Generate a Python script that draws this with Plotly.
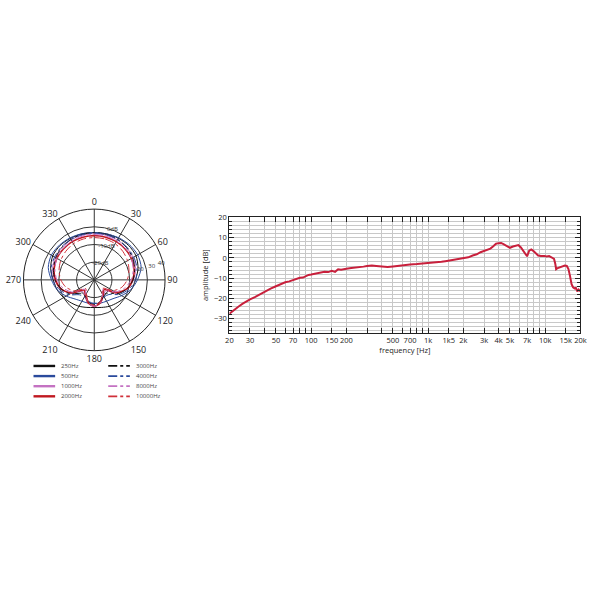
import plotly.graph_objects as go

# polar pattern: angles (deg) and level (dB) per frequency
angles = [0, 15, 30, 45, 60, 75, 90, 105, 120, 135, 150, 165, 180,
          195, 210, 225, 240, 255, 270, 285, 300, 315, 330, 345, 360]

pattern = {
    '250Hz':   [-3.3, -3.1, -2.8, -2.5, -2.8, -4.4, -6.7, -8.3, -10.0, -11.7, -12.8, -13.9, -14.4,
                -13.9, -12.8, -11.6, -10.0, -8.3, -6.8, -4.5, -2.9, -2.6, -2.9, -3.1, -3.3],
    '500Hz':   [-3.3, -3.1, -2.5, -1.9, -1.7, -2.6, -5.6, -8.6, -12.2, -15.0, -16.1, -16.4, -16.7,
                -16.4, -16.1, -14.7, -11.7, -8.3, -5.8, -3.1, -2.0, -2.2, -2.6, -3.0, -3.3],
    '1000Hz':  [-3.9, -3.9, -3.9, -4.2, -4.7, -5.8, -7.8, -10.6, -15.0, -21.1, -19.4, -16.4, -15.3,
                -16.4, -19.4, -20.8, -14.7, -10.3, -7.5, -5.6, -4.6, -4.2, -3.9, -3.9, -3.9],
    '2000Hz':  [-5.0, -5.0, -5.0, -5.3, -5.8, -6.7, -8.3, -10.8, -15.6, -22.2, -20.0, -16.7, -15.0,
                -16.7, -20.0, -21.9, -15.3, -10.6, -8.1, -6.5, -5.6, -5.3, -5.0, -5.0, -5.0],
    '3000Hz':  [-3.3, -3.4, -3.6, -4.2, -5.0, -6.4, -8.1, -10.8, -14.4, -19.4, -19.4, -17.2, -16.1,
                -17.2, -19.4, -19.2, -14.2, -10.6, -7.8, -6.1, -4.9, -4.1, -3.6, -3.4, -3.3],
    '4000Hz':  [-3.6, -3.6, -3.6, -3.9, -4.2, -5.0, -6.7, -9.7, -13.6, -18.3, -18.9, -17.5, -16.7,
                -17.5, -18.9, -18.1, -13.3, -9.4, -6.5, -4.7, -4.1, -3.7, -3.6, -3.6, -3.6],
    '8000Hz':  [-4.4, -4.4, -4.7, -5.0, -5.8, -7.2, -9.2, -12.2, -16.4, -22.8, -20.6, -16.7, -15.0,
                -16.7, -20.6, -22.5, -16.1, -11.9, -8.9, -7.0, -5.6, -5.0, -4.7, -4.4, -4.4],
    '10000Hz': [-6.1, -6.1, -6.4, -7.2, -8.3, -9.7, -11.4, -13.9, -17.8, -23.3, -21.1, -17.2, -15.8,
                -17.2, -21.1, -23.1, -17.5, -13.6, -11.1, -9.4, -8.1, -7.2, -6.4, -6.1, -6.1],
}

colors = {'250Hz': '#111111', '500Hz': '#2a4a9c', '1000Hz': '#c472c2', '2000Hz': '#c01820',
          '3000Hz': '#111111', '4000Hz': '#2a4a9c', '8000Hz': '#c472c2', '10000Hz': '#d0303a'}

ring_vals = [-20, -10, 0, 10]
ring_text = ['-20dB', '-10dB', '0dB']
ring_r = [-20, -10, 0]
side_labels = ['20', '30', '40']
side_r = [-3.3, 3.3, 9.0]

# frequency response
freq = [20, 22, 24, 26, 28, 30, 33, 36, 40, 45, 50, 55, 60, 65, 70, 75, 80, 85, 90, 95,
        100, 110, 120, 130, 140, 150, 160, 170, 180, 190, 200, 220, 250, 280, 300, 330, 360,
        400, 450, 500, 550, 600, 650, 700, 800, 900, 1000, 1100, 1200, 1300, 1400, 1500,
        1600, 1800, 2000, 2200, 2400, 2600, 2800, 3000, 3200, 3400, 3600, 3800, 4000, 4200,
        4400, 4600, 4800, 5000, 5300, 5600, 5900, 6200, 6500, 6800, 7000, 7300, 7600, 7900,
        8300, 8700, 9200, 9800, 10300, 10800, 11400, 11900, 12200, 12400, 12800, 13300,
        14000, 14700, 15300, 15800, 16300, 16800, 17300, 17800, 18300, 18800, 19300, 20000]
amp = [-27.5, -25.5, -24.0, -22.6, -21.4, -20.5, -19.4, -18.2, -16.5, -15.2, -14.0, -12.8,
       -12.0, -11.6, -10.9, -10.2, -9.8, -9.7, -9.0, -8.4, -8.2, -7.8, -7.3, -6.8, -7.0,
       -6.4, -6.9, -5.6, -5.8, -5.4, -5.3, -5.0, -4.8, -4.3, -4.0, -3.8, -4.0, -4.3, -4.5,
       -4.2, -3.9, -3.5, -3.2, -3.2, -3.0, -2.8, -2.5, -2.3, -2.0, -1.9, -1.6, -1.3, -1.0,
       -0.8, -0.3, 0.3, 1.2, 1.8, 2.8, 3.5, 3.8, 4.6, 5.8, 7.0, 7.3, 7.4, 6.8, 6.2, 5.3,
       5.0, 5.6, 6.0, 6.3, 5.2, 3.5, 1.5, 0.8, 3.6, 4.2, 3.5, 2.3, 1.2, 0.9, 1.0, 0.7, 0.9,
       0.2, -0.5, -3.0, -5.6, -5.0, -4.7, -4.5, -3.8, -4.0, -5.5, -9.0, -13.0, -14.5,
       -15.0, -14.8, -16.5, -15.6, -16.5]

x_ticks = [20, 30, 50, 70, 100, 150, 200, 500, 700, 1000, 1500, 2000, 3000, 4000, 5000,
           7000, 10000, 15000, 20000]
x_labels = ['20', '30', '50', '70', '100', '150', '200', '500', '700', '1k', '1k5', '2k',
            '3k', '4k', '5k', '7k', '10k', '15k', '20k']
x_minor = [40, 60, 80, 90, 300, 400, 600, 800, 900, 6000, 8000, 9000]
y_ticks = [20, 10, 0, -10, -20, -30]

font = 'Open Sans, Liberation Sans, sans-serif'
fig = go.Figure()

names = list(pattern.keys())
solid_names = names[:4]
for name in names:
    solid = name in solid_names
    fig.add_trace(go.Scatterpolar(
        r=pattern[name], theta=angles, mode='lines', name=name, subplot='polar',
        showlegend=False,
        line=dict(color=colors[name], width=1.6 if name == '2000Hz' else 1.0,
                  dash='solid' if solid else 'dashdot', shape='spline', smoothing=0.8)))

fig.add_trace(go.Scatterpolar(
    r=ring_r, theta=[20, 20, 20], mode='text', text=ring_text, subplot='polar',
    textfont=dict(size=6, color='#333333'), showlegend=False))
fig.add_trace(go.Scatterpolar(
    r=side_r, theta=[77, 77, 76], mode='text', text=side_labels, subplot='polar',
    textfont=dict(size=6, color='#333333'), cliponaxis=False, showlegend=False))

fig.add_trace(go.Scatter(x=freq, y=amp, mode='lines', showlegend=False,
                         line=dict(color='#c8203c', width=2), xaxis='x', yaxis='y'))

# hand-made legend: two columns of four entries below the polar plot
shapes = []
annotations = []
for i, name in enumerate(names):
    col, row = divmod(i, 4)
    x0 = (30 + col * 76) / 600
    yy = 1 - (364 + row * 10.2) / 600
    shapes.append(dict(type='line', xref='paper', yref='paper', x0=x0, x1=x0 + 22 / 600,
                       y0=yy, y1=yy,
                       line=dict(color=colors[name], width=2.4 if col == 0 else 1.8,
                                 dash='solid' if col == 0 else 'dashdot')))
    annotations.append(dict(xref='paper', yref='paper', x=x0 + 26 / 600, y=yy, text=name,
                            showarrow=False, xanchor='left', yanchor='middle',
                            font=dict(size=6, color='#444444')))

fig.update_layout(
    width=600, height=600, paper_bgcolor='white', plot_bgcolor='white',
    margin=dict(l=0, r=0, t=0, b=0), showlegend=False,
    font=dict(family=font, size=8, color='#222222'),
    shapes=shapes, annotations=annotations,
    polar=dict(
        domain=dict(x=[0.033, 0.273], y=[0.418, 0.658]),
        bgcolor='white',
        angularaxis=dict(rotation=90, direction='clockwise', tickmode='array',
                         tickvals=list(range(0, 360, 30)), ticks='',
                         showline=True, linecolor='#222222', linewidth=1,
                         gridcolor='#333333', gridwidth=0.8,
                         tickfont=dict(size=9, color='#222222')),
        radialaxis=dict(range=[-30, 10], tickmode='array', tickvals=ring_vals,
                        showticklabels=False, showline=False,
                        ticks='', gridcolor='#333333', gridwidth=0.8)),
    xaxis=dict(type='log', range=[1.30103, 4.30103], domain=[0.382, 0.977],
               anchor='y', tickmode='array', tickvals=x_ticks, ticktext=x_labels,
               tickangle=0, showgrid=True, gridcolor='#c8c8c8', gridwidth=0.8,
               ticks='inside', ticklen=5, tickcolor='#222222', mirror='allticks',
               showline=True, linecolor='#222222', linewidth=1,
               minor=dict(tickmode='array', tickvals=x_minor, showgrid=True,
                          gridcolor='#c8c8c8', ticks='inside', ticklen=5,
                          tickcolor='#222222'),
               tickfont=dict(size=7.5),
               title=dict(text='frequency [Hz]', font=dict(size=7.5), standoff=3)),
    yaxis=dict(range=[-37, 20], domain=[0.449, 0.643], anchor='x',
               tickmode='array', tickvals=y_ticks, showgrid=True,
               gridcolor='#c8c8c8', gridwidth=0.8, zeroline=False,
               ticks='inside', ticklen=5, tickcolor='#222222', mirror='allticks',
               showline=True, linecolor='#222222', linewidth=1,
               minor=dict(dtick=2, showgrid=True, gridcolor='#c8c8c8',
                          ticks='inside', ticklen=3, tickcolor='#222222'),
               tickfont=dict(size=7.5),
               title=dict(text='amplitude [dB]', font=dict(size=7.5), standoff=4)),
)

fig.write_html('out.html', config={'displayModeBar': False},
               post_script="document.body.style.margin='0';")
